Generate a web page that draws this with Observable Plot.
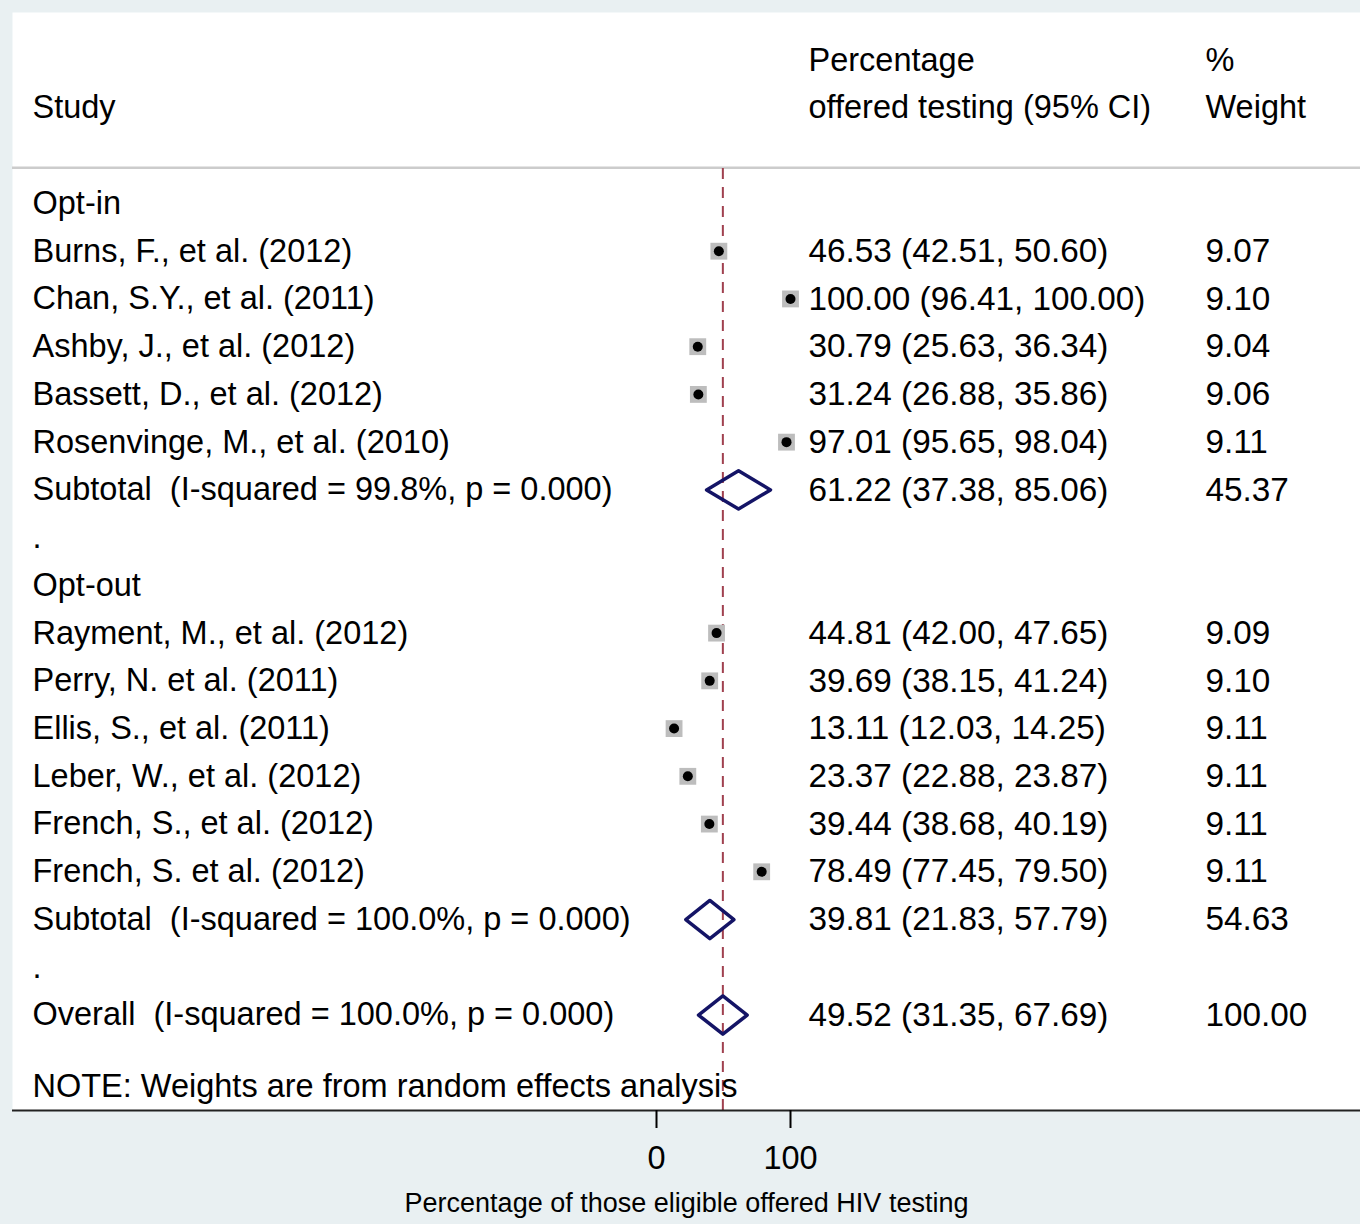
<!DOCTYPE html>
<html>
<head>
<meta charset="utf-8">
<script src="https://cdn.jsdelivr.net/npm/d3@7"></script>
<script src="https://cdn.jsdelivr.net/npm/@observablehq/plot@0.6"></script>
<style>
  html, body { margin: 0; padding: 0; background: #e9f0f2; }
  svg text { white-space: pre; }
</style>
</head>
<body>
<div id="chart"></div>
<script>
// ---- data ----
const groupNames = ["Opt-in", "Opt-out"];
const studyNames = [
  "Burns, F., et al. (2012)", "Chan, S.Y., et al. (2011)", "Ashby, J., et al. (2012)",
  "Bassett, D., et al. (2012)", "Rosenvinge, M., et al. (2010)",
  "Rayment, M., et al. (2012)", "Perry, N. et al. (2011)", "Ellis, S., et al. (2011)",
  "Leber, W., et al. (2012)", "French, S., et al. (2012)", "French, S. et al. (2012)"
];
const studyGroup = [0, 0, 0, 0, 0, 1, 1, 1, 1, 1, 1];
const studyEst = [46.53, 100.00, 30.79, 31.24, 97.01, 44.81, 39.69, 13.11, 23.37, 39.44, 78.49];
const studyLo  = [42.51, 96.41, 25.63, 26.88, 95.65, 42.00, 38.15, 12.03, 22.88, 38.68, 77.45];
const studyHi  = [50.60, 100.00, 36.34, 35.86, 98.04, 47.65, 41.24, 14.25, 23.87, 40.19, 79.50];
const studyWeight = [9.07, 9.10, 9.04, 9.06, 9.11, 9.09, 9.10, 9.11, 9.11, 9.11, 9.11];

const subtotalLabels = ["Subtotal  (I-squared = 99.8%, p = 0.000)", "Subtotal  (I-squared = 100.0%, p = 0.000)"];
const subtotalEst = [61.22, 39.81];
const subtotalLo  = [37.38, 21.83];
const subtotalHi  = [85.06, 57.79];
const subtotalWeight = [45.37, 54.63];

const overallLabel = "Overall  (I-squared = 100.0%, p = 0.000)";
const overallEst = 49.52, overallLo = 31.35, overallHi = 67.69, overallWeight = 100.00;

const headerStudy = ["Study"];
const headerCI = ["Percentage", "offered testing (95% CI)"];
const headerWeight = ["%", "Weight"];
const noteText = "NOTE: Weights are from random effects analysis";
const axisTitle = "Percentage of those eligible offered HIV testing";
const xTicks = [0, 100];

// ---- build rows ----
const fmt = v => v.toFixed(2);
const ciText = (e, l, h) => `${fmt(e)} (${fmt(l)}, ${fmt(h)})`;
const rows = [];     // every text row
const studies = [];  // study markers
const diamonds = []; // pooled estimates
let r = 0;
groupNames.forEach((g, gi) => {
  rows.push({row: r++, label: g});
  studyNames.forEach((s, i) => {
    if (studyGroup[i] !== gi) return;
    const d = {row: r++, label: s, est: studyEst[i], lo: studyLo[i], hi: studyHi[i],
               ci: ciText(studyEst[i], studyLo[i], studyHi[i]), w: fmt(studyWeight[i])};
    rows.push(d); studies.push(d);
  });
  const sd = {row: r++, label: subtotalLabels[gi], est: subtotalEst[gi], lo: subtotalLo[gi], hi: subtotalHi[gi],
              ci: ciText(subtotalEst[gi], subtotalLo[gi], subtotalHi[gi]), w: fmt(subtotalWeight[gi])};
  rows.push(sd); diamonds.push(sd);
  rows.push({row: r++, label: "."});
});
const od = {row: r++, label: overallLabel, est: overallEst, lo: overallLo, hi: overallHi,
            ci: ciText(overallEst, overallLo, overallHi), w: fmt(overallWeight)};
rows.push(od); diamonds.push(od);
const noteRow = r + 0.5;

const H = 0.4; // diamond half-height in row units
const diamondPts = diamonds.flatMap((d, i) => [
  {id: i, x: d.lo, y: d.row}, {id: i, x: d.est, y: d.row - H},
  {id: i, x: d.hi, y: d.row}, {id: i, x: d.est, y: d.row + H}, {id: i, x: d.lo, y: d.row}
]);

const font = "'Liberation Sans', Arial, sans-serif";
const fs = 32.5;
const fsNum = 33.3;
const colStudy = 20, colCI = 796, colW = 1193; // offsets from frame left (px)
const txt = (data, opts) => Plot.text(data, {frameAnchor: "left", textAnchor: "start", fontSize: fs, fill: "#000", ...opts});

const chart = Plot.plot({
  width: 1360, height: 1224,
  marginLeft: 12, marginRight: 0, marginTop: 12, marginBottom: 114,
  x: {domain: [0, 100], range: [656, 790]},
  y: {domain: [-4, 19], range: [12, 1110], axis: null},
  style: {background: "transparent", fontFamily: font, color: "#000"},
  marks: [
    Plot.frame({fill: "white", stroke: null}),
    Plot.ruleY([-0.75], {stroke: "#cccccc", strokeWidth: 2.5}),
    Plot.ruleX([overallEst], {y1: -0.73, y2: 19, stroke: "#a0404f", strokeWidth: 2, strokeDasharray: "11,8"}),
    Plot.ruleY(studies, {y: "row", x1: "lo", x2: "hi", stroke: "#000", strokeWidth: 1.5}),
    Plot.dot(studies, {x: "est", y: "row", symbol: "square", r: 9.5, fill: "#bdbdbd", stroke: null}),
    Plot.dot(studies, {x: "est", y: "row", r: 5, fill: "#000", stroke: null}),
    Plot.line(diamondPts, {x: "x", y: "y", z: "id", stroke: "#141466", strokeWidth: 3.5, curve: "linear-closed"}),
    // header
    txt(headerStudy, {y: [-2], text: d => d, dx: colStudy}),
    txt(headerCI, {y: [-3, -2], text: d => d, dx: colCI}),
    txt(headerWeight, {y: [-3, -2], text: d => d, dx: colW}),
    // rows
    txt(rows, {y: "row", text: "label", dx: colStudy}),
    txt(rows.filter(d => d.ci), {y: "row", text: "ci", dx: colCI, fontSize: fsNum}),
    txt(rows.filter(d => d.w), {y: "row", text: "w", dx: colW, fontSize: fsNum}),
    txt([noteText], {y: [noteRow], text: d => d, dx: colStudy}),
    // axis
    Plot.ruleY([19], {stroke: "#222", strokeWidth: 2}),
    Plot.axisX({ticks: xTicks, tickSize: 18, tickPadding: 17, fontSize: fs, label: null, tickFormat: d => String(d), strokeWidth: 2}),
    Plot.text([axisTitle], {frameAnchor: "bottom", dy: 101, fontSize: 27, fill: "#000"})
  ]
});
document.getElementById("chart").appendChild(chart);
</script>
</body>
</html>
